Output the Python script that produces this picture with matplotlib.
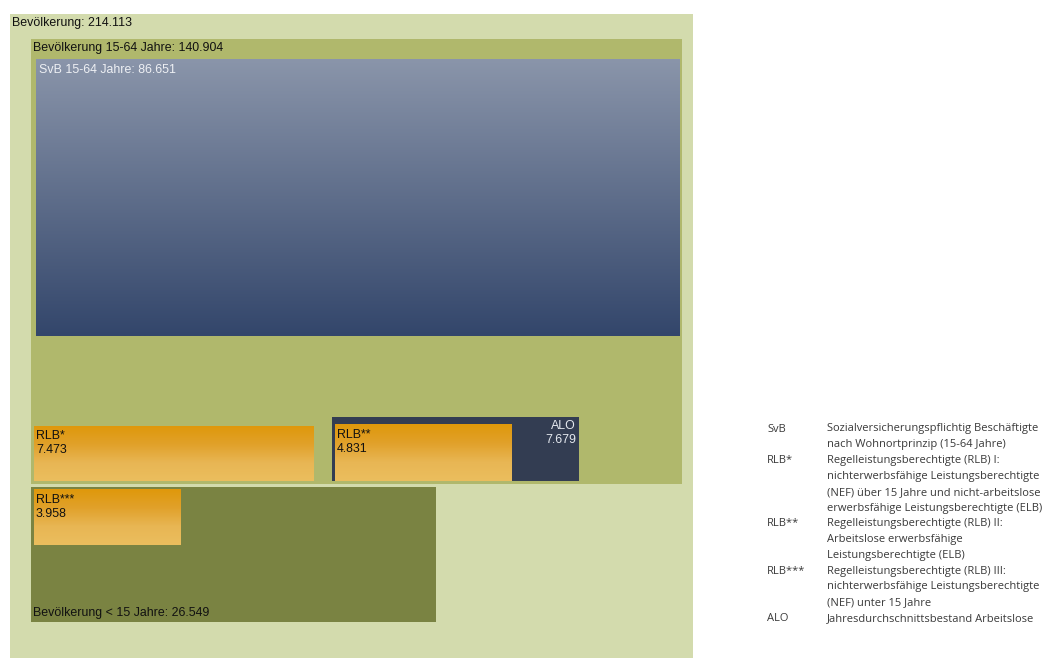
import numpy as np
import matplotlib
matplotlib.use("Agg")
import matplotlib.pyplot as plt
from matplotlib.colors import LinearSegmentedColormap

# values in thousands of persons
names = ["Bevölkerung", "Bevölkerung 15-64 Jahre", "SvB 15-64 Jahre",
         "Bevölkerung < 15 Jahre", "RLB*", "RLB**", "ALO", "RLB***"]
values = [214.113, 140.904, 86.651, 26.549, 7.473, 4.831, 7.679, 3.958]

legend_keys = ["SvB", "RLB*", "RLB**", "RLB***", "ALO"]
legend_texts = [
    "Sozialversicherungspflichtig Beschäftigte\nnach Wohnortprinzip (15-64 Jahre)",
    "Regelleistungsberechtigte (RLB) I:\nnichterwerbsfähige Leistungsberechtigte\n"
    "(NEF) über 15 Jahre und nicht-arbeitslose\nerwerbsfähige Leistungsberechtigte (ELB)",
    "Regelleistungsberechtigte (RLB) II:\nArbeitslose erwerbsfähige\nLeistungsberechtigte (ELB)",
    "Regelleistungsberechtigte (RLB) III:\nnichterwerbsfähige Leistungsberechtigte\n(NEF) unter 15 Jahre",
    "Jahresdurchschnittsbestand Arbeitslose",
]

SCALE = 2055  # px^2 per 1.000 persons -> box area proportional to value


def fmt(v):
    return f"{v:.3f}"


def box(v, x, y, w=None, h=None, anchor="top"):
    # one side fixed, the other follows from the value
    if w is None:
        w = v * SCALE / h
    else:
        h = v * SCALE / w
    top = y if anchor == "top" else y - h
    return x, top, w, h


fig = plt.figure(figsize=(10.51, 6.58), dpi=100)
ax = fig.add_axes([0, 0, 1, 1])
ax.set_xlim(0, 1051)
ax.set_ylim(658, 0)
ax.set_autoscale_on(False)
ax.axis("off")

orange = LinearSegmentedColormap.from_list("o", ["#DF980B", "#E1A12A", "#E8B654", "#EBBE5E"])
navy = LinearSegmentedColormap.from_list("n", ["#8A95AA", "#33466B"])
grad = np.linspace(0, 1, 256).reshape(-1, 1)

layer = [1]


def flat(r, color):
    x, y, w, h = r
    ax.add_patch(plt.Rectangle((x, y), w, h, facecolor=color, edgecolor="none",
                               zorder=layer[0]))
    layer[0] += 1


def shaded(r, cmap):
    x, y, w, h = r
    ax.imshow(grad, cmap=cmap, aspect="auto", extent=(x, x + w, y + h, y),
              interpolation="bilinear", zorder=layer[0])
    layer[0] += 1


font = ["Liberation Sans", "DejaVu Sans"]
fs = 8.9

r_all = box(values[0], 10, 14, h=644)
r_1564 = box(values[1], 31, 39, w=651)
r_svb = box(values[2], 36, 59, w=644)
r_u15 = box(values[3], 31, 487, w=405)
r_rlb1 = box(values[4], 34, 481, w=280, anchor="bottom")
r_alo = box(values[6], 332, 481, w=247, anchor="bottom")
r_rlb2 = box(values[5], 335, 481, w=177, anchor="bottom")
r_rlb3 = box(values[7], 34, 490, w=147)

flat(r_all, "#D3DBAD")
flat(r_1564, "#B0B86C")
shaded(r_svb, navy)
flat(r_u15, "#7A8342")
shaded(r_rlb1, orange)
flat(r_alo, "#333D52")
shaded(r_rlb2, orange)
shaded(r_rlb3, orange)

tz = 50
ax.text(r_all[0] + 2, r_all[1] + 9, f"{names[0]}: {fmt(values[0])}",
        fontsize=fs, family=font, va="center", color="#111111", zorder=tz)
ax.text(r_1564[0] + 2, r_1564[1] + 9, f"{names[1]}: {fmt(values[1])}",
        fontsize=fs, family=font, va="center", color="#111111", zorder=tz)
ax.text(r_svb[0] + 3, r_svb[1] + 11, f"{names[2]}: {fmt(values[2])}",
        fontsize=fs, family=font, va="center", color="#EEF0F4", zorder=tz)
ax.text(r_u15[0] + 2, r_u15[1] + 126, f"{names[3]}: {fmt(values[3])}",
        fontsize=fs, family=font, va="center", color="#111111", zorder=tz)

for r, i in [(r_rlb1, 4), (r_rlb2, 5), (r_rlb3, 7)]:
    ax.text(r[0] + 2, r[1] + 4, f"{names[i]}\n{fmt(values[i])}", fontsize=fs,
            family=font, va="top", ha="left", color="#111111", linespacing=1.25,
            zorder=tz)
ax.text(r_alo[0] + r_alo[2] - 3, r_alo[1] + 3, f"{names[6]}\n{fmt(values[6])}",
        fontsize=fs, family=font, va="top", ha="right", color="#E4E8EE",
        linespacing=1.25, multialignment="right", zorder=tz)

# legend
lfont = ["Open Sans", "DejaVu Sans"]
y = 429
for key, txt in zip(legend_keys, legend_texts):
    ax.text(767, y, key, fontsize=8.0, family=lfont, va="center", color="#3A3A3A")
    for line in txt.split("\n"):
        ax.text(827, y, line, fontsize=8.0, family=lfont, va="center",
                color="#3A3A3A")
        y += 15.8

fig.savefig("out.png", dpi=100)
